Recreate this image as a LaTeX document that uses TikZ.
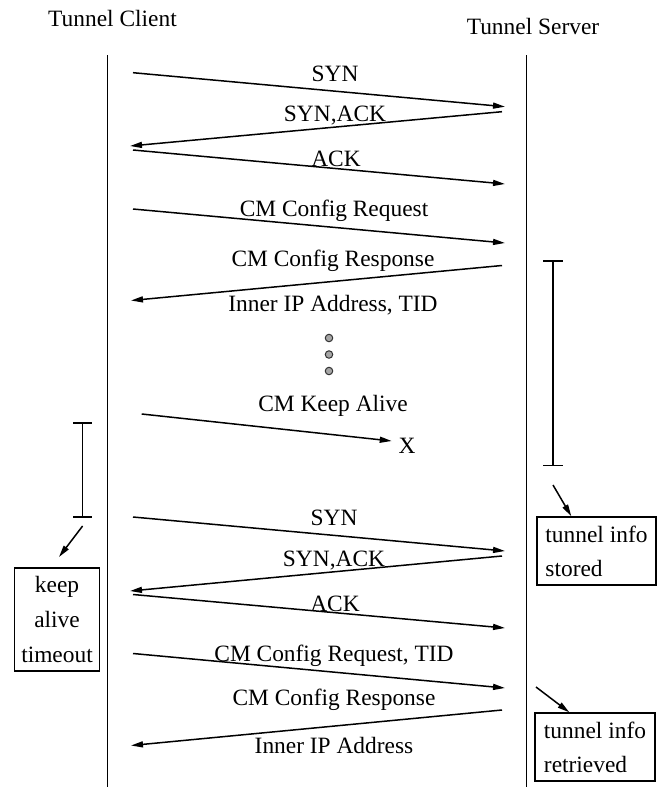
\documentclass[tikz,border=0pt]{standalone}
\usepackage{fontspec}
\setmainfont{Liberation Serif}
\usetikzlibrary{arrows.meta}
\begin{document}
\begin{tikzpicture}[x=1pt,y=-1pt,
  every node/.style={font=\fontsize{23.4}{28}\selectfont},
  life/.style={line width=1.4pt},
  msg/.style={line width=1.5pt,-{Triangle[length=12pt,width=6pt]}},
  lbl/.style={anchor=base,inner sep=0pt},
  infobox/.style={draw,line width=1.4pt,inner sep=0pt},
  span/.style={line width=1.4pt},
  dot/.style={circle,draw=black!80,fill=black!35,line width=1pt,minimum size=7.5pt,inner sep=0pt}]
\useasboundingbox (0,0) rectangle (662,787);

% participants
\node[lbl] (tc) at (112.5,26.7) {Tunnel Client};
\node[lbl] (ts) at (533,34) {Tunnel Server};
\coordinate (ctop) at (107.5,55);
\coordinate (cbot) at (107.5,787);
\coordinate (stop) at (526.5,55);
\coordinate (sbot) at (526.5,787);
\draw[life] (ctop) -- (cbot);
\draw[life] (stop) -- (sbot);

% first handshake
\coordinate (a1) at (133,72.7);   \coordinate (b1) at (505,106.7);
\coordinate (a2) at (502,111.7);  \coordinate (b2) at (130,146);
\coordinate (a3) at (133,150);    \coordinate (b3) at (505,184);
\coordinate (a4) at (133,209);    \coordinate (b4) at (505,243);
\coordinate (a5) at (502,265.5);  \coordinate (b5) at (131,300.5);
\draw[msg] (a1) -- (b1);
\draw[msg] (a2) -- (b2);
\draw[msg] (a3) -- (b3);
\draw[msg] (a4) -- (b4);
\draw[msg] (a5) -- (b5);
\node[lbl] (l1) at (335,81.7) {SYN};
\node[lbl] (l2) at (335,121.7) {SYN,ACK};
\node[lbl] (l3) at (336,166.7) {ACK};
\node[lbl] (l4) at (334,216) {CM Config Request};
\node[lbl] (l5) at (333,266.7) {CM Config Response};
\node[lbl] (l5b) at (333,311.7) {Inner IP Address, TID};

% elapsed time
\node[dot] (d1) at (329,338) {};
\node[dot] (d2) at (329,354.5) {};
\node[dot] (d3) at (329,371) {};

% lost keep alive
\coordinate (ka) at (141.7,414);
\node[lbl] (lost) at (407,453) {X};
\coordinate (kb) at (391.7,441);
\draw[msg] (ka) -- (kb);
\node[lbl] (lk) at (333,411.7) {CM Keep Alive};

% server hold interval
\coordinate (sh1) at (553,261);
\coordinate (sh2) at (553,465.5);
\draw[span] (sh1) -- (sh2);
\draw[span] ([xshift=-10pt]sh1) -- ([xshift=10pt]sh1);
\draw[span] ([xshift=-10pt]sh2) -- ([xshift=10pt]sh2);

% client keep alive interval
\coordinate (ch1) at (82.5,423);
\coordinate (ch2) at (82.5,517);
\draw[span] (ch1) -- (ch2);
\draw[span] ([xshift=-9.5pt]ch1) -- ([xshift=9.5pt]ch1);
\draw[span] ([xshift=-9.5pt]ch2) -- ([xshift=9.5pt]ch2);

% notes
\node[infobox,minimum width=85pt,minimum height=103pt,align=center,
      font=\fontsize{23.4}{35}\selectfont] (kat) at (57,619.5) {keep\\alive\\timeout};
\node[infobox,minimum width=119pt,minimum height=68pt,align=left,
      font=\fontsize{23.4}{34}\selectfont] (stored) at (596.5,551) {tunnel info\\stored};
\node[infobox,minimum width=120pt,minimum height=68pt,align=left,
      font=\fontsize{23.4}{34}\selectfont] (retr) at (595,747) {tunnel info\\retrieved};

\coordinate (n1a) at (82.6,526);  \coordinate (n1b) at (59,557);
\draw[msg] (n1a) -- (n1b);
\coordinate (n2a) at (553,485);
\draw[msg] (n2a) -- ([xshift=35pt]stored.north west);
\coordinate (n3a) at (536,687);
\draw[msg] (n3a) -- ([xshift=35pt]retr.north west);

% reconnection
\coordinate (a6) at (133,517);    \coordinate (b6) at (505,551);
\coordinate (a7) at (502,556);    \coordinate (b7) at (130,591);
\coordinate (a8) at (133,594.5);  \coordinate (b8) at (505,628);
\coordinate (a9) at (133,653.5);  \coordinate (b9) at (505,688);
\coordinate (a10) at (502,710);   \coordinate (b10) at (131,745.5);
\draw[msg] (a6) -- (b6);
\draw[msg] (a7) -- (b7);
\draw[msg] (a8) -- (b8);
\draw[msg] (a9) -- (b9);
\draw[msg] (a10) -- (b10);
\node[lbl] (l6) at (334,525) {SYN};
\node[lbl] (l7) at (334,566.7) {SYN,ACK};
\node[lbl] (l8) at (335,611) {ACK};
\node[lbl] (l9) at (334,661.7) {CM Config Request, TID};
\node[lbl] (l10) at (334,705) {CM Config Response};
\node[lbl] (l10b) at (334,753) {Inner IP Address};
\end{tikzpicture}
\end{document}
